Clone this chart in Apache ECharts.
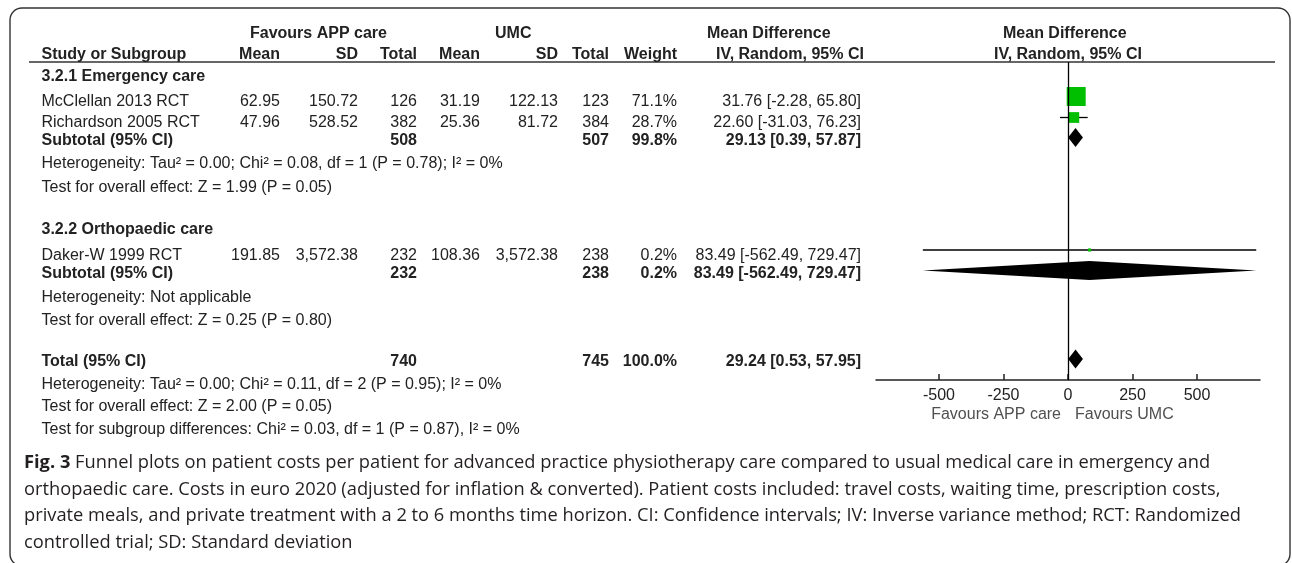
<!DOCTYPE html>
<html>
<head>
<meta charset="utf-8">
<script src="https://cdn.jsdelivr.net/npm/echarts@6.0.0/dist/echarts.min.js"></script>
<style>
  html, body { margin: 0; padding: 0; background: #fff; }
  #forest { width: 1292px; height: 563px; }
</style>
</head>
<body>
<div id="forest"></div>
<script>
// ---- data ----
const studyNames = ['McClellan 2013 RCT', 'Richardson 2005 RCT', 'Daker-W 1999 RCT']
const appMean = [62.95, 47.96, 191.85]
const appSD = [150.72, 528.52, 3572.38]
const appTotal = [126, 382, 232]
const umcMean = [31.19, 25.36, 108.36]
const umcSD = [122.13, 81.72, 3572.38]
const umcTotal = [123, 384, 238]
const studyWeight = [71.1, 28.7, 0.2]
const studyMD = [31.76, 22.60, 83.49]
const studyLow = [-2.28, -31.03, -562.49]
const studyHigh = [65.80, 76.23, 729.47]

const groupNames = ['3.2.1 Emergency care', '3.2.2 Orthopaedic care']
const groupAppTotal = [508, 232]
const groupUmcTotal = [507, 238]
const groupWeight = [99.8, 0.2]
const groupMD = [29.13, 83.49]
const groupLow = [0.39, -562.49]
const groupHigh = [57.87, 729.47]
const groupHet = [
  'Heterogeneity: Tau² = 0.00; Chi² = 0.08, df = 1 (P = 0.78); I² = 0%',
  'Heterogeneity: Not applicable'
]
const groupTest = [
  'Test for overall effect: Z = 1.99 (P = 0.05)',
  'Test for overall effect: Z = 0.25 (P = 0.80)'
]

const totalApp = 740
const totalUmc = 745
const totalWeight = 100.0
const totalMD = 29.24
const totalLow = 0.53
const totalHigh = 57.95
const totalNotes = [
  'Heterogeneity: Tau² = 0.00; Chi² = 0.11, df = 2 (P = 0.95); I² = 0%',
  'Test for overall effect: Z = 2.00 (P = 0.05)',
  'Test for subgroup differences: Chi² = 0.03, df = 1 (P = 0.87), I² = 0%'
]

const axisTicks = [-500, -250, 0, 250, 500]

const captionLines = [
  ' Funnel plots on patient costs per patient for advanced practice physiotherapy care compared to usual medical care in emergency and',
  'orthopaedic care. Costs in euro 2020 (adjusted for inflation & converted). Patient costs included: travel costs, waiting time, prescription costs,',
  'private meals, and private treatment with a 2 to 6 months time horizon. CI: Confidence intervals; IV: Inverse variance method; RCT: Randomized',
  'controlled trial; SD: Standard deviation'
]

// ---- layout ----
const FONT = '"Liberation Sans", Arial, sans-serif'
const CAPTION_FONT = '"Open Sans", sans-serif'
const INK = '#222'
const GREEN = '#00bf00'
const TEXT_SHIFT = 2
const col = { label: 41.5, appMean: 280, appSD: 358, appN: 417, umcMean: 480, umcSD: 558, umcN: 609, weight: 677, ci: 861 }
const rowY = {
  head1: 31.5,
  head2: 52.5,
  group: [75, 227.5],
  study: [100, 121, 253.5],
  subtotal: [138.5, 271.5],
  het: [162, 296],
  test: [186, 318.5],
  total: 360,
  totalNotes: [382.5, 405, 427.5],
  favours: 413
}
const plotTop = 62
const plotBottom = 380

const fmt2 = v => v.toLocaleString('en-US', { minimumFractionDigits: 2, maximumFractionDigits: 2 })
const fmtCI = (m, l, h) => fmt2(m) + ' [' + fmt2(l) + ', ' + fmt2(h) + ']'
const fmtW = w => w.toFixed(1) + '%'
const boxSize = w => 3 + 16 * Math.pow(w / 71.1, 0.8)

// build the table cells
const cells = []
function cell (x, y, text, align, bold, color) {
  cells.push({ x, y: y + TEXT_SHIFT, text: String(text), align: align || 'right', bold: !!bold, color: color || INK })
}
cell(250, rowY.head1, 'Favours APP care', 'left', true)
cell(495, rowY.head1, 'UMC', 'left', true)
cell(707, rowY.head1, 'Mean Difference', 'left', true)
cell(1003, rowY.head1, 'Mean Difference', 'left', true)
cell(col.label, rowY.head2, 'Study or Subgroup', 'left', true)
cell(col.appMean, rowY.head2, 'Mean', 'right', true)
cell(col.appSD, rowY.head2, 'SD', 'right', true)
cell(col.appN, rowY.head2, 'Total', 'right', true)
cell(col.umcMean, rowY.head2, 'Mean', 'right', true)
cell(col.umcSD, rowY.head2, 'SD', 'right', true)
cell(col.umcN, rowY.head2, 'Total', 'right', true)
cell(col.weight, rowY.head2, 'Weight', 'right', true)
cell(716, rowY.head2, 'IV, Random, 95% CI', 'left', true)
cell(994, rowY.head2, 'IV, Random, 95% CI', 'left', true)

const studyGroup = [0, 0, 1]
groupNames.forEach((g, gi) => {
  cell(col.label, rowY.group[gi], g, 'left', true)
  studyNames.forEach((s, i) => {
    if (studyGroup[i] !== gi) return
    const y = rowY.study[i]
    cell(col.label, y, s, 'left')
    cell(col.appMean, y, fmt2(appMean[i]))
    cell(col.appSD, y, fmt2(appSD[i]))
    cell(col.appN, y, appTotal[i])
    cell(col.umcMean, y, fmt2(umcMean[i]))
    cell(col.umcSD, y, fmt2(umcSD[i]))
    cell(col.umcN, y, umcTotal[i])
    cell(col.weight, y, fmtW(studyWeight[i]))
    cell(col.ci, y, fmtCI(studyMD[i], studyLow[i], studyHigh[i]))
  })
  const y = rowY.subtotal[gi]
  cell(col.label, y, 'Subtotal (95% CI)', 'left', true)
  cell(col.appN, y, groupAppTotal[gi], 'right', true)
  cell(col.umcN, y, groupUmcTotal[gi], 'right', true)
  cell(col.weight, y, fmtW(groupWeight[gi]), 'right', true)
  cell(col.ci, y, fmtCI(groupMD[gi], groupLow[gi], groupHigh[gi]), 'right', true)
  cell(col.label, rowY.het[gi], groupHet[gi], 'left')
  cell(col.label, rowY.test[gi], groupTest[gi], 'left')
})
cell(col.label, rowY.total, 'Total (95% CI)', 'left', true)
cell(col.appN, rowY.total, totalApp, 'right', true)
cell(col.umcN, rowY.total, totalUmc, 'right', true)
cell(col.weight, rowY.total, fmtW(totalWeight), 'right', true)
cell(col.ci, rowY.total, fmtCI(totalMD, totalLow, totalHigh), 'right', true)
totalNotes.forEach((t, i) => cell(col.label, rowY.totalNotes[i], t, 'left'))
cell(1061, rowY.favours, 'Favours APP care', 'right', false, '#505050')
cell(1075, rowY.favours, 'Favours UMC', 'left', false, '#505050')

const studyData = studyNames.map((_, i) => [studyMD[i], studyLow[i], studyHigh[i], rowY.study[i], studyWeight[i]])
const pooledData = groupNames.map((_, i) => [groupMD[i], groupLow[i], groupHigh[i], rowY.subtotal[i]])
  .concat([[totalMD, totalLow, totalHigh, rowY.total]])

const chart = echarts.init(document.getElementById('forest'))

const option = {
  backgroundColor: '#fff',
  animation: false,
  grid: [
    { left: 876, top: plotTop, width: 384, height: plotBottom - plotTop },
    { left: 0, top: 0, width: 1292, height: 563 }
  ],
  xAxis: [
    {
      type: 'value',
      gridIndex: 0,
      min: -744,
      max: 744,
      splitLine: { show: false },
      axisLine: { show: true, onZero: false, lineStyle: { color: '#222', width: 1.5 } },
      axisTick: { show: true, inside: true, length: 6, customValues: axisTicks, lineStyle: { color: '#222', width: 1.5 } },
      axisLabel: { customValues: axisTicks, fontSize: 16, fontFamily: FONT, color: '#222', margin: 8 }
    },
    { type: 'value', gridIndex: 1, min: 0, max: 1292, show: false }
  ],
  yAxis: [
    { type: 'value', gridIndex: 0, inverse: true, min: plotTop, max: plotBottom, show: false },
    { type: 'value', gridIndex: 1, inverse: true, min: 0, max: 563, show: false }
  ],
  graphic: [
    {
      type: 'rect',
      shape: { x: 10, y: 8, width: 1280, height: 558, r: 12 },
      style: { fill: 'none', stroke: '#333', lineWidth: 1.4 },
      silent: true
    },
    {
      type: 'line',
      shape: { x1: 29, y1: 62, x2: 1275, y2: 62 },
      style: { stroke: '#333', lineWidth: 1.5 },
      silent: true
    },
    {
      type: 'text',
      left: 24,
      top: 449.5,
      silent: true,
      style: {
        text: '{b|Fig. 3}' + captionLines.join('\n'),
        font: '18.3px ' + CAPTION_FONT,
        fill: '#231f20',
        lineHeight: 26.7,
        rich: {
          b: { fontWeight: 'bold', fontSize: 18.3, fontFamily: CAPTION_FONT, fill: '#231f20', lineHeight: 26.7 }
        }
      }
    }
  ],
  series: [
    {
      name: 'table',
      type: 'custom',
      xAxisIndex: 1,
      yAxisIndex: 1,
      silent: true,
      data: cells.map(c => [c.x, c.y]),
      renderItem: (params, api) => {
        const c = cells[params.dataIndex]
        const p = api.coord([c.x, c.y])
        return {
          type: 'text',
          x: p[0],
          y: p[1],
          style: {
            text: c.text,
            font: (c.bold ? 'bold ' : '') + '16px ' + FONT,
            fill: c.color,
            textAlign: c.align,
            textVerticalAlign: 'middle',
            align: c.align,
            verticalAlign: 'middle'
          }
        }
      }
    },
    {
      name: 'studies',
      type: 'custom',
      xAxisIndex: 0,
      yAxisIndex: 0,
      silent: true,
      data: studyData,
      renderItem: (params, api) => {
        const y = api.value(3) - 3.5
        const c = api.coord([api.value(0), y])
        const l = api.coord([api.value(1), y])
        const h = api.coord([api.value(2), y])
        const s = boxSize(api.value(4))
        return {
          type: 'group',
          children: [
            { type: 'line', shape: { x1: l[0], y1: l[1], x2: h[0], y2: l[1] }, style: { stroke: '#000', lineWidth: 1.3 } },
            { type: 'rect', shape: { x: c[0] - s / 2, y: c[1] - s / 2, width: s, height: s }, style: { fill: GREEN } }
          ]
        }
      },
      markLine: {
        silent: true,
        symbol: 'none',
        label: { show: false },
        lineStyle: { color: '#000', width: 1.3, type: 'solid' },
        data: [{ xAxis: 0 }]
      }
    },
    {
      name: 'pooled',
      type: 'custom',
      xAxisIndex: 0,
      yAxisIndex: 0,
      silent: true,
      data: pooledData,
      renderItem: (params, api) => {
        const y = api.value(3) - 1
        const m = api.coord([api.value(0), y])
        const l = api.coord([api.value(1), y])
        const h = api.coord([api.value(2), y])
        const half = 9.5
        return {
          type: 'polygon',
          shape: { points: [[l[0], m[1]], [m[0], m[1] - half], [h[0], m[1]], [m[0], m[1] + half]] },
          style: { fill: '#000' }
        }
      }
    }
  ]
}

chart.setOption(option)
</script>
</body>
</html>
